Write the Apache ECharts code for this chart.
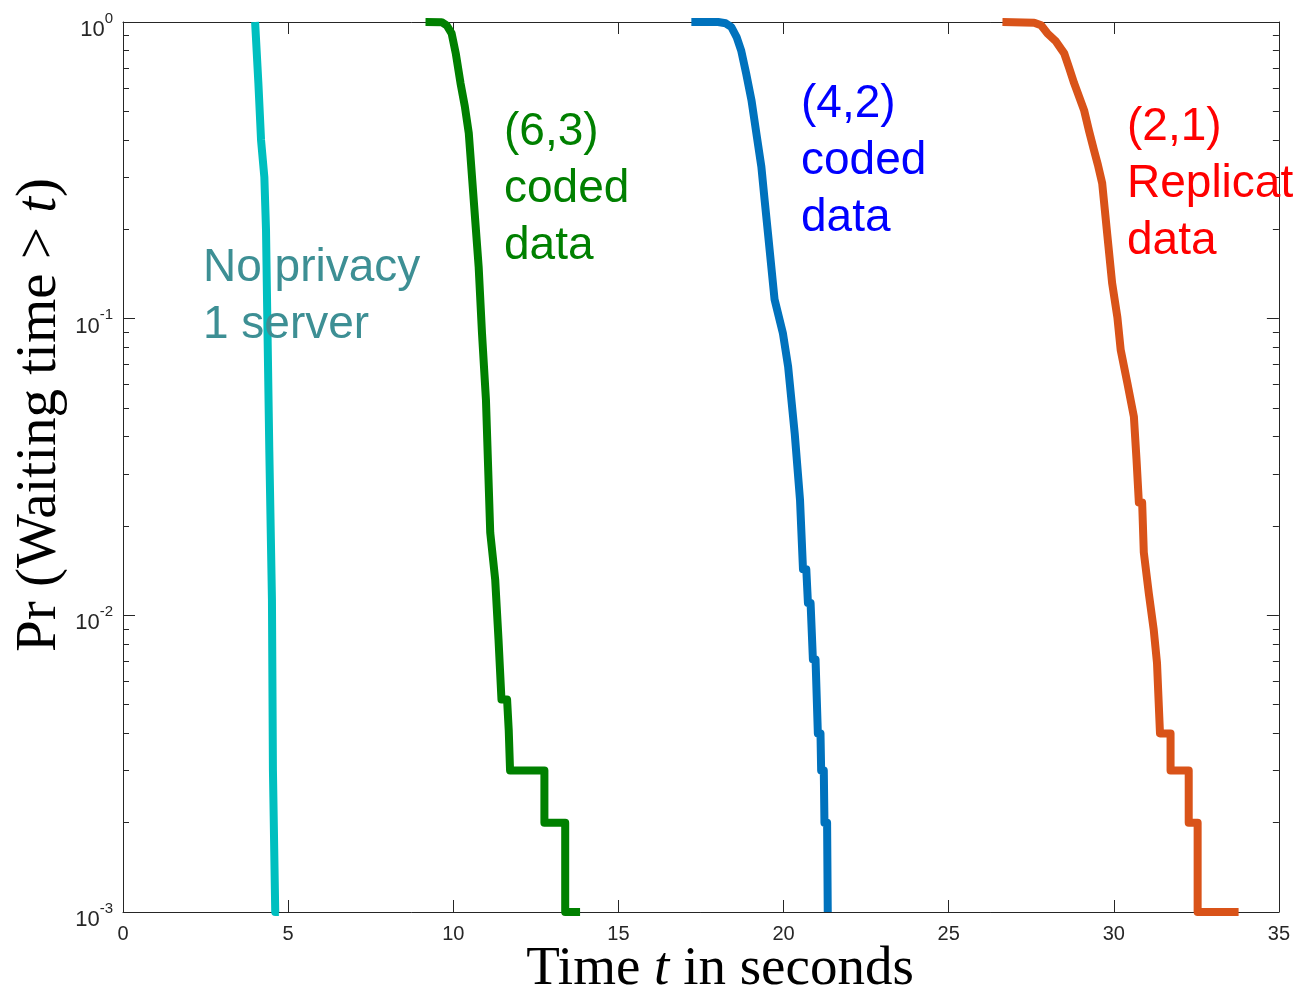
<!DOCTYPE html>
<html>
<head>
<meta charset="utf-8">
<script src="https://cdn.jsdelivr.net/npm/echarts@6/dist/echarts.min.js"></script>
<style>
  html, body { margin: 0; padding: 0; background: #fff; }
  #chart { width: 1293px; height: 995px; }
</style>
</head>
<body>
<div id="chart"></div>
<script>
// empirical tail curves, time in seconds vs Pr(waiting time > t)
var noPrivacyT = [4.00, 4.10, 4.18, 4.28, 4.33, 4.37, 4.43, 4.51, 4.54, 4.59, 4.61, 4.72]
var noPrivacyP = [1, 0.62, 0.40, 0.30, 0.20, 0.10, 0.036, 0.0113, 0.003, 0.003, 0.001, 0.001]

var coded63T = [9.16, 9.65, 9.80, 9.95, 10.08, 10.22, 10.35, 10.47, 10.62, 10.77, 10.87, 10.99, 11.12, 11.27, 11.37, 11.46, 11.63, 11.68, 11.72, 11.72, 12.76, 12.76, 13.39, 13.39, 13.84]
var coded63P = [1, 0.999, 0.975, 0.916, 0.78, 0.622, 0.52, 0.422, 0.251, 0.149, 0.0895, 0.0533, 0.019, 0.0132, 0.0083, 0.0052, 0.0052, 0.0041, 0.0041, 0.003, 0.003, 0.002, 0.002, 0.001, 0.001]

var coded42T = [17.21, 18.02, 18.25, 18.42, 18.58, 18.72, 18.87, 19.03, 19.18, 19.33, 19.43, 19.53, 19.73, 19.98, 20.14, 20.34, 20.50, 20.59, 20.69, 20.74, 20.82, 20.89, 20.97, 21.04, 21.12, 21.14, 21.22, 21.24, 21.32, 21.34, 21.36]
var coded42P = [1, 1, 0.99, 0.962, 0.89, 0.80, 0.67, 0.545, 0.42, 0.325, 0.25, 0.194, 0.116, 0.0895, 0.0689, 0.041, 0.0245, 0.0143, 0.0143, 0.011, 0.011, 0.0071, 0.0071, 0.004, 0.004, 0.003, 0.003, 0.002, 0.002, 0.001, 0.001]

var replicaT = [26.63, 27.59, 27.80, 27.99, 28.25, 28.50, 28.65, 28.80, 28.95, 29.10, 29.25, 29.40, 29.52, 29.65, 29.80, 29.95, 30.11, 30.21, 30.41, 30.61, 30.69, 30.76, 30.86, 30.91, 31.06, 31.21, 31.31, 31.40, 31.72, 31.72, 32.27, 32.27, 32.54, 32.54, 33.78]
var replicaP = [1, 0.995, 0.975, 0.916, 0.86, 0.784, 0.70, 0.622, 0.56, 0.505, 0.43, 0.370, 0.33, 0.286, 0.194, 0.132, 0.101, 0.0785, 0.0608, 0.0467, 0.0334, 0.024, 0.024, 0.0163, 0.0119, 0.00895, 0.0069, 0.004, 0.004, 0.003, 0.003, 0.002, 0.002, 0.001, 0.001]

var xTicks = [0, 5, 10, 15, 20, 25, 30, 35]
var yMajor = [0.001, 0.01, 0.1, 1]
var yExponents = ['-3', '-2', '-1', '0']
var yMinor = [0.002, 0.003, 0.004, 0.005, 0.006, 0.007, 0.008, 0.009,
  0.02, 0.03, 0.04, 0.05, 0.06, 0.07, 0.08, 0.09,
  0.2, 0.3, 0.4, 0.5, 0.6, 0.7, 0.8, 0.9]

function pairs(t, p) {
  var out = []
  for (var i = 0; i < t.length; i++) out.push([t[i], p[i]])
  return out
}

var axisColor = '#262626'
var sans = 'Liberation Sans, Arial, Helvetica, sans-serif'
var serif = 'Liberation Serif, Times New Roman, serif'

function xAxisCfg(pos, showLabel) {
  return {
    type: 'value', position: pos, min: 0, max: 35, interval: 5,
    axisLine: { show: true, onZero: false, lineStyle: { color: axisColor, width: 1 } },
    axisTick: { show: true, inside: true, length: 12, customValues: xTicks, lineStyle: { color: axisColor } },
    axisLabel: { show: showLabel, color: axisColor, fontSize: 20, fontFamily: sans, margin: 12, customValues: xTicks },
    splitLine: { show: false }
  }
}

function yAxisCfg(pos, ticks, len, showLine) {
  return {
    type: 'log', logBase: 10, position: pos, min: 0.001, max: 1,
    axisLine: { show: showLine, onZero: false, lineStyle: { color: axisColor, width: 1 } },
    axisTick: { show: true, inside: true, length: len, customValues: ticks, lineStyle: { color: axisColor } },
    axisLabel: { show: false },
    splitLine: { show: false }
  }
}

function curve(name, t, p, color) {
  return {
    name: name, type: 'line', data: pairs(t, p),
    showSymbol: false, symbol: 'none', clip: false,
    lineStyle: { color: color, width: 8, join: 'round', cap: 'butt' },
    emphasis: { disabled: true }
  }
}

function note(left, top, text, color) {
  return {
    type: 'text', left: left, top: top, z: 100,
    style: { text: text, fill: color, font: '46px ' + sans, lineHeight: 57 }
  }
}

var graphics = [
  note(203, 240, 'No privacy\n1 server', '#3D8F94'),
  note(504, 104, '(6,3)\ncoded\ndata', '#008000'),
  note(801, 76, '(4,2)\ncoded\ndata', '#0000FF'),
  note(1127, 99, '(2,1)\nReplication\ndata', '#FF0000'),
  {
    type: 'text', x: 720, y: 970, z: 100,
    style: {
      text: '{n|Time }{i|t}{n| in seconds}', align: 'center', verticalAlign: 'middle',
      rich: {
        n: { fontSize: 55, fontFamily: serif, fill: '#000' },
        i: { fontSize: 55, fontFamily: serif, fontStyle: 'italic', fill: '#000' }
      }
    }
  },
  {
    type: 'text', x: 40, y: 415, rotation: Math.PI / 2, z: 100,
    style: {
      text: '{n|Pr (Waiting time > }{i|t}{n|)}', align: 'center', verticalAlign: 'middle',
      rich: {
        n: { fontSize: 57, fontFamily: serif, fill: '#000' },
        i: { fontSize: 57, fontFamily: serif, fontStyle: 'italic', fill: '#000' }
      }
    }
  }
]

var chart = echarts.init(document.getElementById('chart'))
chart.setOption({
  animation: false,
  backgroundColor: '#fff',
  grid: { left: 123, top: 22, right: 12, bottom: 83, containLabel: false },
  xAxis: [xAxisCfg('bottom', true), xAxisCfg('top', false)],
  yAxis: [
    yAxisCfg('left', yMajor, 12, true),
    yAxisCfg('left', yMinor, 6, false),
    yAxisCfg('right', yMajor, 12, true),
    yAxisCfg('right', yMinor, 6, false)
  ],
  series: [
    curve('No privacy, 1 server', noPrivacyT, noPrivacyP, '#00BFBF'),
    curve('(6,3) coded data', coded63T, coded63P, '#008000'),
    curve('(4,2) coded data', coded42T, coded42P, '#0072BD'),
    curve('(2,1) Replication data', replicaT, replicaP, '#D95319')
  ],
  graphic: graphics
})

// y tick labels 10^k, placed at the log axis positions
yMajor.forEach(function (v, i) {
  var py = chart.convertToPixel({ yAxisIndex: 0 }, v)
  graphics.push({
    type: 'text', x: 113, y: py + 4, z: 100,
    style: {
      text: '{b|10}{e|' + yExponents[i] + '}', align: 'right', verticalAlign: 'middle',
      rich: {
        b: { fontSize: 22, fontFamily: sans, fill: axisColor, lineHeight: 30, verticalAlign: 'bottom' },
        e: { fontSize: 15, fontFamily: sans, fill: axisColor, lineHeight: 12, verticalAlign: 'top' }
      }
    }
  })
})
chart.setOption({ graphic: graphics })
</script>
</body>
</html>
